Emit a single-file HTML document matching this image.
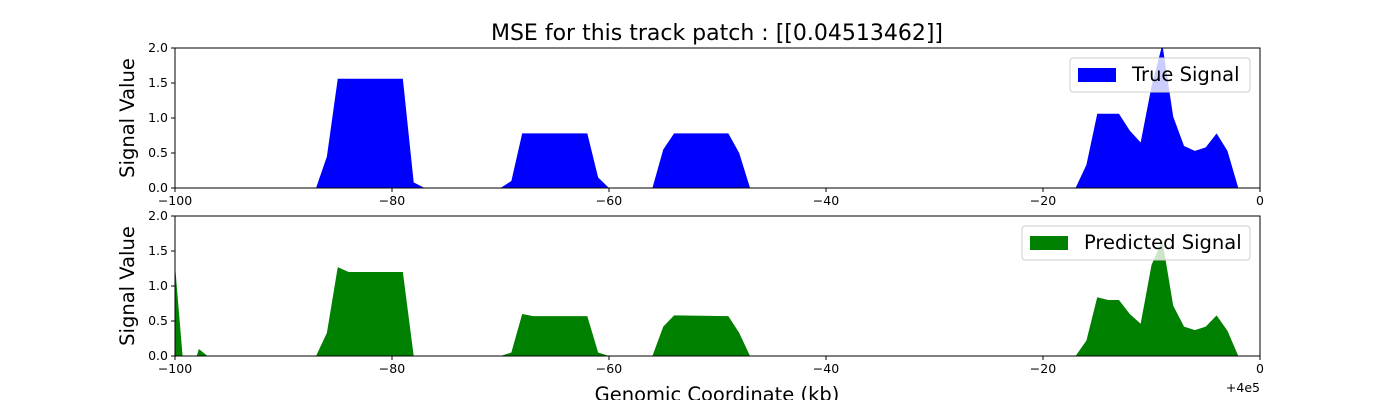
<!DOCTYPE html>
<html><head><meta charset="utf-8"><style>
body{margin:0;background:#fff}
svg text{font-family:"DejaVu Sans","Liberation Sans",sans-serif}
</style></head><body>
<svg id="c" width="1400" height="400" xmlns="http://www.w3.org/2000/svg"></svg>
<script>
const trueX=[-100,-87,-86,-85,-79,-78,-77,-70,-69,-68,-62,-61,-60,-56,-55,-54,-49,-48,-47,-17,-16,-15,-13,-12,-11,-10,-9,-8,-7,-6,-5,-4,-3,-2,-1];
const trueY=[0,0,0.45,1.56,1.56,0.08,0,0,0.1,0.78,0.78,0.15,0,0,0.55,0.78,0.78,0.5,0,0,0.33,1.06,1.06,0.82,0.65,1.45,2.05,1.02,0.6,0.53,0.58,0.78,0.53,0,0];
const predX=[-100,-99.3,-98,-97.8,-97,-87,-86,-85,-84,-79,-78,-70,-69,-68,-67,-62,-61,-60,-56,-55,-54,-49,-48,-47,-17,-16,-15,-14,-13,-12,-11,-10,-9,-8,-7,-6,-5,-4,-3,-2,-1];
const predY=[1.3,0,0,0.1,0,0,0.33,1.27,1.2,1.2,0,0,0.05,0.6,0.57,0.57,0.05,0,0,0.42,0.58,0.57,0.33,0,0,0.22,0.84,0.8,0.8,0.6,0.46,1.3,1.65,0.72,0.42,0.37,0.42,0.58,0.36,0,0];
const xTicks=[-100,-80,-60,-40,-20,0];
const xTickLabels=["\u2212100","\u221280","\u221260","\u221240","\u221220","0"];
const yTicks=[0,0.5,1,1.5,2];
const yTickLabels=["0.0","0.5","1.0","1.5","2.0"];

const svg=document.getElementById('c');
const NS='http://www.w3.org/2000/svg';
const L=175,R=1260;
const sx=v=>L+(v+100)/100*(R-L);
function mk(tag,attrs,parent){const e=document.createElementNS(NS,tag);for(const k in attrs)e.setAttribute(k,attrs[k]);(parent||svg).appendChild(e);return e;}
function txt(s,attrs){const e=mk('text',attrs);e.textContent=s;return e;}

const t=txt('MSE for this track patch : [[0.04513462]]',{x:717,y:40,'font-size':22,'text-anchor':'middle'});



function panel(top,bot,xs,ys,color,label,name,legX){
  const sy=v=>bot-v/2*(bot-top);
  const g=mk('g',{});
  
  
  let d='M'+sx(xs[0])+','+sy(0);
  for(let i=0;i<xs.length;i++)d+=' L'+sx(xs[i]).toFixed(2)+','+sy(Math.min(ys[i],2.1)).toFixed(2);
  d+=' L'+sx(xs[xs.length-1])+','+sy(0)+' Z';
  const cp=mk('clipPath',{id:'cl'+name},g);mk('rect',{x:L,y:top,width:R-L,height:bot-top},cp);
  const a=mk('path',{d:d,fill:color,'clip-path':'url(#cl'+name+')'},g);
  
  
  mk('rect',{x:L,y:top,width:R-L,height:bot-top,fill:'none',stroke:'#000','stroke-width':1},g);
  xTicks.forEach((v,i)=>{
    mk('line',{x1:sx(v),x2:sx(v),y1:bot,y2:bot+4,stroke:'#000'},g);
    const tl=txt(xTickLabels[i],{x:sx(v),y:bot+17,'font-size':12.5,'text-anchor':'middle'});
    
    
  });
  yTicks.forEach((v,i)=>{
    mk('line',{x1:L-4,x2:L,y1:sy(v),y2:sy(v),stroke:'#000'},g);
    const tl=txt(yTickLabels[i],{x:L-7,y:sy(v)+4,'font-size':12.5,'text-anchor':'end'});
    
    
  });
  const yl=txt('Signal Value',{x:0,y:0,'font-size':19.5,'text-anchor':'middle',transform:'translate(134,'+((top+bot)/2)+') rotate(-90)'});
  
  
  const lg=mk('g',{});
  
  
  mk('rect',{x:legX,y:top+10,width:1250-legX,height:34,rx:3,fill:'rgba(255,255,255,0.8)',stroke:'#ccc'},lg);
  mk('rect',{x:legX+8,y:top+20,width:38,height:14,fill:color},lg);
  const lt=txt(label,{x:legX+62,y:top+33,'font-size':19.5});
  
  
}
panel(48,188,trueX,trueY,'#0000ff','True Signal','true-signal',1070);
panel(216,356,predX,predY,'#008000','Predicted Signal','predicted-signal',1022);
const xl=txt('Genomic Coordinate (kb)',{x:717,y:401,'font-size':19.5,'text-anchor':'middle'});


const off=txt('+4e5',{x:1260,y:392,'font-size':12.5,'text-anchor':'end'});


</script>
</body></html>
